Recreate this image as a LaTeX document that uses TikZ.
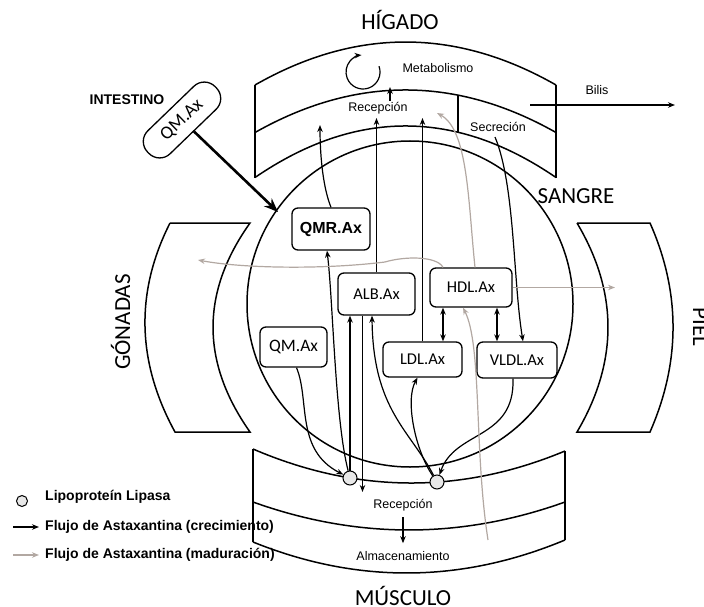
\documentclass[tikz,border=0pt]{standalone}
\usepackage{fontspec}
\setmainfont{Liberation Sans}
\newfontfamily\calib{Carlito}
\usetikzlibrary{arrows.meta}
\definecolor{flowgray}{RGB}{178,168,162}

\begin{document}
\begin{tikzpicture}[x=1pt, y=-1pt,
  lab/.style={font=\fontsize{12.5}{14}\selectfont, inner sep=0pt},
  organ/.style={font=\calib\fontsize{23}{26}\selectfont, inner sep=0pt, anchor=base},
  lp/.style={draw, line width=1.3pt, rounded corners=6pt, align=center,
             font=\calib\fontsize{16.5}{18}\selectfont, inner sep=0pt},
  lip/.style={circle, draw, line width=1pt, fill=gray!18, minimum size=14pt, inner sep=0pt},
  wall/.style={line width=1.5pt},
  arr/.style={-{Stealth[length=7pt, width=5.5pt]}, line width=1.2pt},
  darr/.style={{Stealth[length=7pt, width=5.5pt]}-{Stealth[length=7pt, width=5.5pt]}, line width=1.2pt},
  garr/.style={arr, draw=flowgray},
  leg/.style={font=\bfseries\fontsize{14}{16}\selectfont, anchor=west, inner sep=0pt}
]
\useasboundingbox (0,0) rectangle (704,607);

% higado
\draw[wall] (255,85) -- (255,177.5) (556,85) -- (556,178);
\draw[wall] (255,85) .. controls (355.3,27.7) and (455.7,27.7) .. (556,85);
\draw[wall] (255,132.5) .. controls (355.3,75.8) and (455.7,75.8) .. (556,132.5);
\draw[wall] (255,177.5) .. controls (355.3,108.8) and (455.7,108.8) .. (556,177.5);
\draw[wall] (458,95.2) -- (458,132.3);

% sangre
\draw[wall] (410,304) circle[radius=163pt];

% gonadas y piel
\draw[wall] (170,223) -- (250,223) .. controls (200.7,292.3) and (200.7,362) .. (250,432)
  -- (175,432) .. controls (136.7,362) and (135,292.3) .. (170,223);
\draw[wall] (577,223) -- (650,223) .. controls (680.7,292.3) and (680.7,362) .. (650,432)
  -- (577,432) .. controls (618.3,362) and (618.3,292.3) .. (577,223);

% musculo
\draw[wall] (253,449) -- (253,542) (565,451) -- (565,540);
\draw[wall] (253,449) .. controls (357,493.7) and (461,494.3) .. (565,451);
\draw[wall] (253,502) .. controls (357,539.3) and (461,539.3) .. (565,502);
\draw[wall] (253,542) .. controls (357,584) and (461,583.3) .. (565,540);

% organ names
\node[organ] (higado) at (400,30) {HÍGADO};
\node[organ] (sangre) at (576,203) {SANGRE};
\node[organ, rotate=90] (gonadas) at (130,322) {GÓNADAS};
\node[organ, rotate=-90] (piel) at (693,327) {PIEL};
\node[organ] (musculo) at (403,605) {MÚSCULO};
\node[font=\bfseries\fontsize{14}{16}\selectfont, inner sep=0pt] (intes) at (127,100) {INTESTINO};

% compartment labels
\node[lab] (metab) at (438,68) {Metabolismo};
\node[lab] (recl) at (378,108) {Recepción};
\node[lab] (secl) at (498,127) {Secreción};
\node[lab] (bilis) at (597,90) {Bilis};
\node[lab] (recm) at (403,505) {Recepción};
\node[lab] (alm) at (403,556) {Almacenamiento};

% lipoproteins
\node[lp, rotate=44, rounded corners=15pt, minimum width=94pt, minimum height=32pt,
      font=\calib\fontsize{18.5}{20}\selectfont] (qmi) at (182,120) {QM.Ax};
\node[lp, font=\bfseries\fontsize{16}{18}\selectfont, minimum width=78pt, minimum height=42pt] (qmr) at (331,229) {QMR.Ax};
\node[lp, minimum width=77pt, minimum height=42pt] (alb) at (376.5,294) {ALB.Ax};
\node[lp, minimum width=82pt, minimum height=39pt] (hdl) at (471,287.5) {HDL.Ax};
\node[lp, minimum width=79pt, minimum height=35pt] (ldl) at (422.5,359.5) {LDL.Ax};
\node[lp, minimum width=80pt, minimum height=36pt] (vldl) at (517,360) {VLDL.Ax};
\node[lp, minimum width=67pt, minimum height=40pt, font=\calib\fontsize{17.5}{19}\selectfont] (qm) at (293.5,347) {QM.Ax};
\node[lip] (lp1) at (350,478) {};
\node[lip] (lp2) at (437,482) {};

\coordinate (entry) at (278,212);
\coordinate (rqmr) at (320,125);
\coordinate (recin) at (400,118);
\coordinate (recg) at (437,113);
\coordinate (metc) at (379,66.2);
\coordinate (metb) at (390,101);
\coordinate (secr) at (495,137);
\coordinate (bil0) at (530,105);
\coordinate (bil1) at (675,105);
\coordinate (gon) at (198,260);
\coordinate (skin) at (615,287.5);
\coordinate (musg) at (488,540);
\coordinate (musr) at (362.5,492);

% black flows
\draw[line width=2.6pt, -{Stealth[length=14pt, width=11pt]}] (qmi) -- (entry);
\draw[arr] (qmr.north) .. controls (322,185) and (320,150) .. (rqmr);
\draw[arr] (alb.north) -- (alb.north |- recin);
\draw[arr] (ldl.north) -- (ldl.north |- recin);
\draw[arr] (metc) arc[start angle=20, end angle=-265, radius=17pt];
\draw[arr] (metb) -- ++(0,-14);
\draw[arr] (secr) .. controls (515,185) and (513,280) .. ([xshift=6pt]vldl.north);
\draw[arr] (bil0) -- (bil1);
\draw[darr] ([xshift=-28pt]hdl.south) -- ([xshift=-28pt]hdl.south |- ldl.north);
\draw[darr] ([xshift=26pt]hdl.south) -- ([xshift=26pt]hdl.south |- vldl.north);
\draw[arr] ([xshift=3pt]qm.south) .. controls (310,400) and (295,450) .. (lp1);
\draw[arr] (lp1) .. controls (335,420) and (333,300) .. ([xshift=-4pt]qmr.south);
\draw[arr] (lp1.north) -- (lp1.north |- alb.south);
\draw[arr] (musr |- alb.south) -- (musr);
\draw[arr] (lp2) .. controls (410,430) and (373,410) .. ([xshift=-4.5pt]alb.south);
\draw[arr] (lp2) .. controls (415,450) and (405,400) .. ([xshift=-5pt]ldl.south);
\draw[arr] ([xshift=-4pt]vldl.south) .. controls (515,440) and (455,430) .. (lp2);
\draw[arr] ([yshift=-6pt]recm.south) -- ([yshift=8pt]alm.north);

% gray flows
\draw[garr] ([xshift=4pt]hdl.north) .. controls (468,200) and (468,130) .. (recg);
\draw[garr] ([xshift=-28pt]hdl.north) .. controls (437,256) and (405,256) .. (385,262)
  .. controls (320,270) and (240,268) .. (gon);
\draw[garr] (hdl.east) -- (skin);
\draw[garr] (musg) .. controls (474,450) and (482,345) .. ([xshift=-8pt]hdl.south);

% legend
\node[lip, minimum size=11pt] (legc) at (22,501) {};
\node[leg] (legl) at (45,497) {Lipoproteín Lipasa};
\node[leg] (legb) at (45,527) {Flujo de Astaxantina (crecimiento)};
\node[leg] (legg) at (45,555) {Flujo de Astaxantina (maduración)};
\coordinate (la0) at (13,527);
\coordinate (lg0) at (13,555);
\draw[arr] (la0) -- ([xshift=-6pt]legb.west);
\draw[garr] (lg0) -- ([xshift=-6pt]legg.west);
\end{tikzpicture}
\end{document}
